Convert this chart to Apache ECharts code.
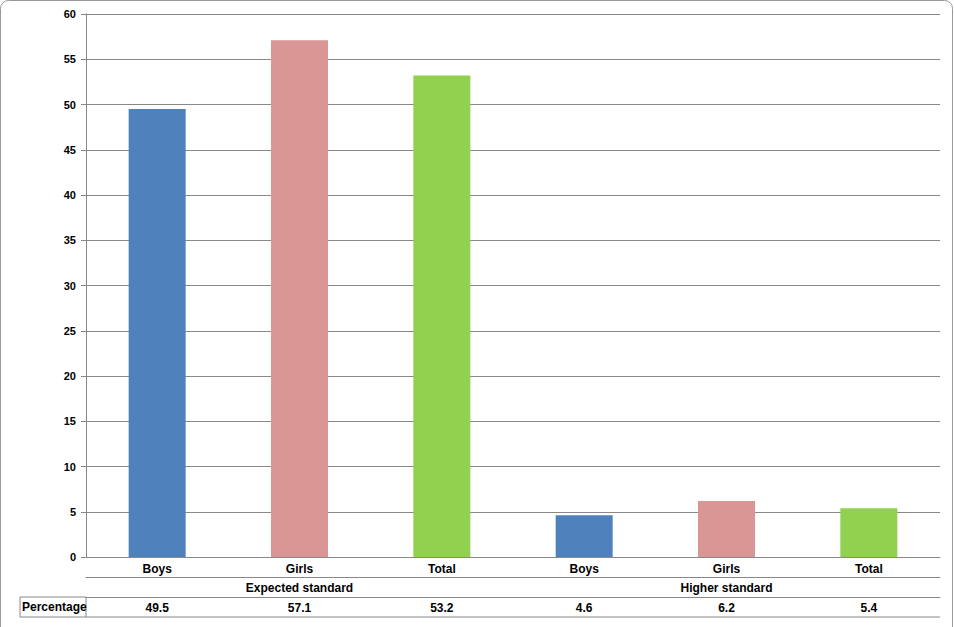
<!DOCTYPE html>
<html><head><meta charset="utf-8">
<script src="https://cdn.jsdelivr.net/npm/echarts@6/dist/echarts.min.js"></script>
<style>html,body{margin:0;padding:0;background:#fff}#c{width:954px;height:627px}</style>
</head><body><div id="c"></div>
<script>
var categories = ['Boys', 'Girls', 'Total', 'Boys', 'Girls', 'Total'];
var groups = ['Expected standard', 'Higher standard'];
var values = [49.5, 57.1, 53.2, 4.6, 6.2, 5.4];
var colors = ['#4F81BD', '#DA9694', '#92D050', '#4F81BD', '#DA9694', '#92D050'];
var rowLabel = 'Percentage';

var chart = echarts.init(document.getElementById('c'), null, { renderer: 'svg' });
var font = { fontFamily: 'Liberation Sans', fontWeight: 'bold', fontSize: 12, color: '#000' };
var lineStyle = { color: '#888', width: 1 };

chart.setOption({
    animation: false,
    grid: { left: 86, right: 14, top: 14, bottom: 70 },
    xAxis: [
        {
            type: 'category', data: categories, position: 'bottom',
            axisLine: { lineStyle: lineStyle }, axisTick: { length: 20, lineStyle: lineStyle },
            axisLabel: Object.assign({ margin: 6 }, font)
        },
        {
            type: 'category', data: groups, position: 'bottom', offset: 20,
            axisLine: { lineStyle: lineStyle }, axisTick: { length: 20, lineStyle: lineStyle },
            axisLabel: Object.assign({ margin: 5 }, font)
        },
        {
            type: 'category', data: values.map(String), position: 'bottom', offset: 40,
            axisLine: { lineStyle: lineStyle }, axisTick: { length: 20, lineStyle: lineStyle },
            axisLabel: Object.assign({ margin: 5 }, font)
        }
    ],
    yAxis: {
        type: 'value', min: 0, max: 60, interval: 5,
        axisLine: { show: true, lineStyle: lineStyle },
        axisTick: { show: true, length: 5, lineStyle: lineStyle },
        axisLabel: Object.assign({ margin: 10 }, font, { fontSize: 11 }),
        splitLine: { lineStyle: { color: '#888' } }
    },
    series: [{
        type: 'bar', barWidth: 57,
        data: values.map(function (v, i) { return { value: v, itemStyle: { color: colors[i] } }; })
    }],
    graphic: [
        { type: 'rect', shape: { x: 0.5, y: 0.5, width: 952, height: 640, r: 8 }, style: { fill: 'none', stroke: '#999' } },
        { type: 'rect', shape: { x: 20, y: 597, width: 66, height: 20 }, style: { fill: 'none', stroke: '#888' } },
        { type: 'line', shape: { x1: 86, y1: 617, x2: 940, y2: 617 }, style: { stroke: '#888' } },
        { type: 'text', left: 22, top: 601, style: { text: rowLabel, font: 'bold 12px Liberation Sans', fill: '#000' } }
    ]
});
</script></body></html>
